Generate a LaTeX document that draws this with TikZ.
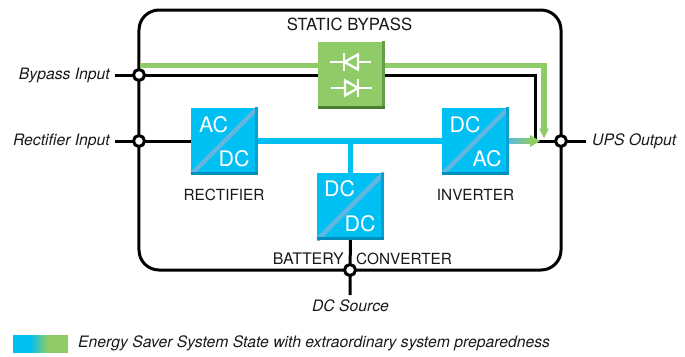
\documentclass[tikz,border=0pt]{standalone}
\usepackage{fontspec}
\setmainfont{TeX Gyre Heros}
\definecolor{cblue}{HTML}{00BFF3}
\definecolor{cbluedk}{HTML}{008FBA}
\definecolor{cbluemd}{HTML}{00A3D0}
\definecolor{cstripe}{HTML}{5FB7DF}
\definecolor{cgreen}{HTML}{8FCB66}
\definecolor{cgreendk}{HTML}{477F34}
\definecolor{cgreenmd}{HTML}{659E4A}
\pgfdeclarehorizontalshading{legendgrad}{100bp}{color(0bp)=(cblue); color(40.5bp)=(cblue); color(56bp)=(cgreen); color(100bp)=(cgreen)}
\tikzset{
  wire/.style={draw=black,line width=3bp},
  bluewire/.style={draw=cblue,line width=5.5bp},
  greenwire/.style={draw=cgreen,line width=5.5bp},
  junction/.style={circle,draw=black,line width=3bp,fill=white,minimum size=11bp,inner sep=0pt},
  conv/.style={rectangle,fill=cblue,minimum size=67bp,inner sep=0pt},
  bypassbox/.style={rectangle,fill=cgreen,minimum size=67bp,inner sep=0pt},
  lab/.style={font=\fontsize{15.4}{18}\selectfont,inner sep=0pt,text=black!90},
  ital/.style={font=\fontsize{15.8}{18}\selectfont\itshape,inner sep=0pt,text=black!90},
  cvt/.style={font=\fontsize{21.5}{24}\selectfont,text=white,inner sep=0pt},
  diode/.style={draw=white,line width=2.4bp},
}
\newcommand{\bevel}[3]{%
  \fill[#3] ([xshift=-3bp]#1.north east) rectangle (#1.south east);
  \fill[#2] ([yshift=3bp]#1.south west) rectangle (#1.south east);
}
\newcommand{\stripe}[1]{%
  \begin{scope}
    \clip (#1.south west) rectangle (#1.north east);
    \draw[cstripe,line width=4.6bp] (#1.south west) -- (#1.north east);
  \end{scope}
}
\begin{document}
\begin{tikzpicture}[x=1bp,y=-1bp]
\useasboundingbox (0,0) rectangle (685,356);
% outer frame
\node[draw=black,line width=3bp,rounded corners=20bp,minimum width=422bp,minimum height=260bp,inner sep=0pt] (frame) at (350,140) {};
% junctions and ends
\coordinate (inB) at (115,75);
\coordinate (inR) at (115,141);
\coordinate (outU) at (586,141);
\coordinate (inD) at (350,295);
\coordinate (jB) at (139,75);
\coordinate (jR) at (139,141);
\coordinate (jO) at (561,141);
\coordinate (jD) at (350,270);
% boxes positions
\node[bypassbox] (sb) at (351.5,75) {};
\node[conv] (rect) at (224.5,141) {};
\node[conv] (inv) at (475.5,141) {};
\node[conv] (bat) at (350.5,206.5) {};
% corners
\coordinate (gL) at (140,65.5);
\coordinate (gC) at (544,65.5);
\coordinate (gA) at (544,129);
\coordinate (gT) at (544,138);
\coordinate (bC) at (535,75);
\coordinate (bE) at (535,141);
\coordinate (hT) at (540,141);
% wires
\draw[wire] (inB) -- (jB) -- (sb.west);
\draw[wire] (sb.east) -- (bC) -- (bE);
\draw[wire] (inR) -- (jR) -- (rect.west);
\draw[wire] (bE) -- (jO) -- (outU);
\draw[wire] (bat.south) -- (jD) -- (inD);
\draw[greenwire] (gL) -- (sb.west |- gL);
\draw[greenwire] (sb.east |- gC) -- (gC) -- (gA);
\fill[cgreen] (539,128.5) -- (549,128.5) -- (gT) -- cycle;
\draw[bluewire] (rect.east) -- (inv.west);
\draw[bluewire] (bat.north |- rect.east) -- (bat.north);
\shade[left color=cstripe,right color=cgreen] (inv.east |- 0,138.2) rectangle (531,143.8);
\fill[cgreen] (530,135) -- (hT) -- (530,147) -- cycle;
% junction circles
\node[junction] (JB) at (jB) {};
\node[junction] (JR) at (jR) {};
\node[junction] (JO) at (jO) {};
\node[junction] (JD) at (jD) {};
% box decoration
\stripe{rect}\stripe{inv}\stripe{bat}
\bevel{sb}{cgreendk}{cgreenmd}
\bevel{rect}{cbluedk}{cbluemd}
\bevel{inv}{cbluedk}{cbluemd}
\bevel{bat}{cbluedk}{cbluemd}
% diodes
\draw[diode] (330,62) -- (371,62);
\draw[diode] (344,53) -- (344,71);
\draw[diode,fill=cgreen,line join=miter] (344.5,62) -- (358,54.5) -- (358,69.5) -- cycle;
\draw[diode] (331,88) -- (372,88);
\draw[diode] (358,79) -- (358,97);
\draw[diode,fill=cgreen,line join=miter] (358,88) -- (345,80.5) -- (345,95.5) -- cycle;
% converter text
\node[cvt] (t1) at (213.5,124.5) {AC};
\node[cvt] (t2) at (234,159) {DC};
\node[cvt] (t3) at (465,124.5) {DC};
\node[cvt] (t4) at (487,159) {AC};
\node[cvt] (t5) at (339.5,189) {DC};
\node[cvt] (t6) at (360,223.5) {DC};
% labels
\node[lab,font=\fontsize{16.8}{18}\selectfont] (l1) at (349.5,24.5) {STATIC BYPASS};
\node[lab] (l2) at (224,194.5) {RECTIFIER};
\node[lab] (l3) at (475.5,194.5) {INVERTER};
\node[lab,anchor=east,font=\fontsize{16}{18}\selectfont] (l4) at (344,258.5) {BATTERY};
\node[lab,anchor=west] (l5) at (356,258.5) {CONVERTER};
\node[ital,anchor=east] (i1) at (110,75) {Bypass Input};
\node[ital,anchor=east] (i2) at (110,141) {Rectifier Input};
\node[ital,anchor=west] (i3) at (592,141) {UPS Output};
\node[ital] (i4) at (350.5,306) {DC Source};
% legend
\shade[shading=legendgrad] (13,335) rectangle (68,352);
\node[ital,anchor=west] (i5) at (78,343.5) {Energy Saver System State with extraordinary system preparedness};
\end{tikzpicture}
\end{document}
